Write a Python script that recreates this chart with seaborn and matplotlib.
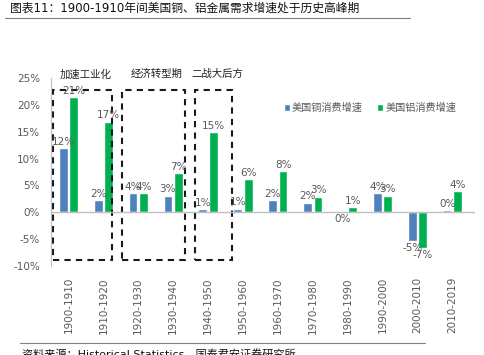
import pandas as pd
import matplotlib.pyplot as plt
import seaborn as sns
from matplotlib.patches import Rectangle
from matplotlib.lines import Line2D

periods = ['1900-1910', '1910-1920', '1920-1930', '1930-1940', '1940-1950', '1950-1960',
           '1960-1970', '1970-1980', '1980-1990', '1990-2000', '2000-2010', '2010-2019']
copper = [11.9, 2.2, 3.6, 3.1, 0.6, 0.7, 2.2, 1.8, -0.1, 3.5, -5.4, 0.4]
aluminum = [21.4, 16.9, 3.5, 7.3, 14.9, 6.2, 7.7, 2.9, 1.0, 3.1, -6.7, 3.9]
copper_labels = ['12%', '2%', '4%', '3%', '1%', '1%', '2%', '2%', '0%', '4%', '-5%', '0%']
aluminum_labels = ['21%', '17%', '4%', '7%', '15%', '6%', '8%', '3%', '1%', '3%', '-7%', '4%']
series_names = ['美国铜消费增速', '美国铝消费增速']
stages = ['加速工业化', '经济转型期', '二战大后方']

df = pd.DataFrame({
    'period': periods * 2,
    'metal': [series_names[0]] * len(periods) + [series_names[1]] * len(periods),
    'growth': copper + aluminum,
})

sns.set_style('white')
plt.rcParams['font.family'] = ['DejaVu Sans', 'Noto Sans CJK SC']
gray = '#595959'

fig = plt.figure(figsize=(4.84, 3.55), dpi=100)
ax = fig.add_axes([51 / 484, 1 - 266 / 355, 424 / 484, 188 / 355])

sns.barplot(data=df, x='period', y='growth', hue='metal', palette=['#4F81BD', '#00B050'],
            width=0.6, gap=0.16, saturation=1, errorbar=None, ax=ax)

for cont, labs in zip(ax.containers, [copper_labels, aluminum_labels]):
    ax.bar_label(cont, labels=labs, padding=1, color=gray, fontsize=7.5)

ax.set_ylim(-10, 25)
ax.set_xlim(-0.5, 11.65)
ax.set_yticks(range(-10, 30, 5))
ax.set_yticklabels([f'{v}%' for v in range(-10, 30, 5)], color=gray, fontsize=7.5)
ax.set_xticks(range(len(periods)))
ax.set_xticklabels(periods, rotation=90, color=gray, fontsize=7.5)
ax.tick_params(axis='x', pad=8, length=0)
ax.tick_params(axis='y', pad=8, length=0)
ax.set_xlabel('')
ax.set_ylabel('')
ax.axhline(0, color='#BFBFBF', lw=1)
for s in ['top', 'right', 'bottom']:
    ax.spines[s].set_visible(False)
ax.spines['left'].set_color('#BFBFBF')

# dashed boxes around the periods
boxes = [(-0.44, 1.25), (1.53, 3.34), (3.63, 4.69)]
for (x0, x1), name in zip(boxes, stages):
    ax.add_patch(Rectangle((x0, -8.9), x1 - x0, 22.8 + 8.9, fill=False, edgecolor='#1a1a1a',
                           lw=1.5, linestyle=(0, (3, 2.5)), clip_on=False))
    ax.text((x0 + x1) / 2 + 0.1, 25.7, name, ha='center', va='center', fontsize=7.5,
            color='#222222', clip_on=False)

handles, labels = ax.get_legend_handles_labels()
ax.legend(handles, labels, loc='center', bbox_to_anchor=(370 / 484, 1 - 108 / 355),
          bbox_transform=fig.transFigure, ncol=2, frameon=False, fontsize=7.3,
          handlelength=0.6, handleheight=0.6, handletextpad=0.2, columnspacing=1.4,
          labelcolor=gray)

fig.text(10 / 484, 1 - 8 / 355, '图表11：1900-1910年间美国铜、铝金属需求增速处于历史高峰期',
         ha='left', va='center', fontsize=8.5, color='#111111')
fig.add_artist(Line2D([5 / 484, 410 / 484], [1 - 18 / 355] * 2, color='#7f7f7f', lw=0.8))
fig.add_artist(Line2D([20 / 484, 425 / 484], [1 - 343 / 355] * 2, color='#7f7f7f', lw=0.8))
fig.text(22 / 484, 1 - 349 / 355, '资料来源：Historical Statistics，国泰君安证券研究所',
         ha='left', va='top', fontsize=8, color='#111111')

fig.savefig('out.png', dpi=100)
